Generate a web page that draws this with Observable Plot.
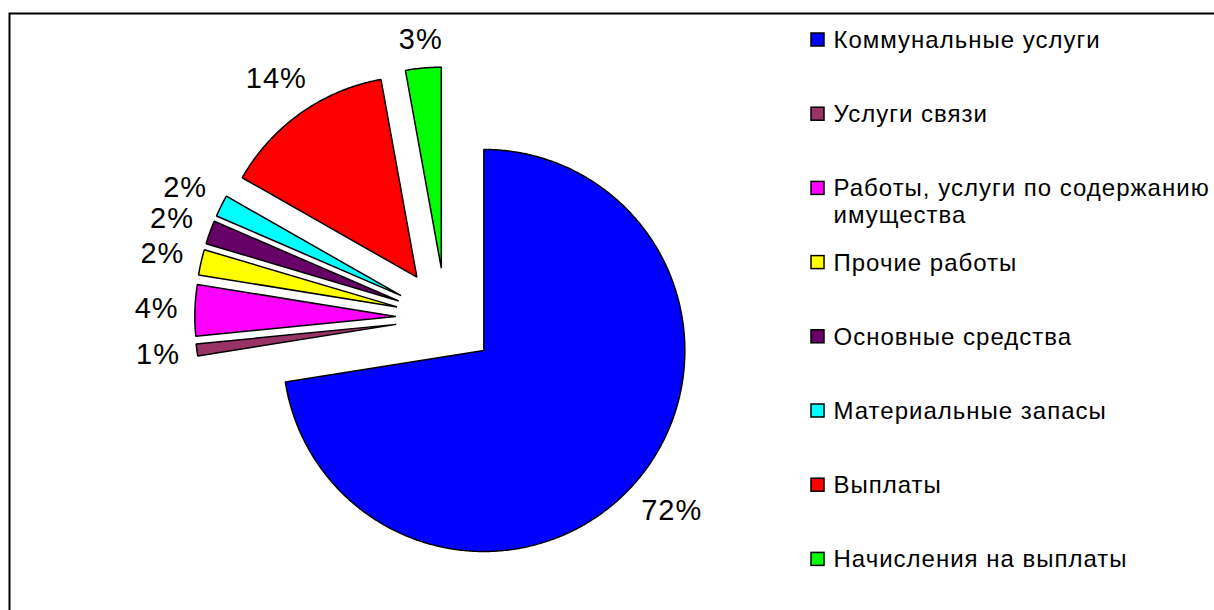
<!DOCTYPE html>
<html><head><meta charset="utf-8">
<script src="https://cdn.jsdelivr.net/npm/d3@7"></script>
<script src="https://cdn.jsdelivr.net/npm/@observablehq/plot@0.6"></script>
<style>html,body{margin:0;padding:0;background:#fff;} svg{display:block}</style>
</head><body><div id="chart"></div>
<script>
// ---- data ----
const categories = ["Коммунальные услуги","Услуги связи","Работы, услуги по содержанию имущества","Прочие работы","Основные средства","Материальные запасы","Выплаты","Начисления на выплаты"];
const values = [72.49, 0.95, 4.1, 2.05, 1.9, 1.75, 13.9, 2.86];
const colors = ["#0000FF","#993366","#FF00FF","#FFFF00","#660066","#00FFFF","#FF0000","#00FF00"];

// ---- layout ----
const W = 1214, H = 610;
const cx = 445.3, cy = 317.5, R = 201, explode = 50;
const FONT = "'Liberation Sans', Arial, sans-serif";
const labelSize = 29, legendSize = 24, letterSp = 1;
const labelGap = 16;
const legSwX = 811, legSwSize = 13, legTextX = 833, legTop = 39.5, legStep = 74.2, legMaxW = W - legTextX - 2;

const ctx = document.createElement("canvas").getContext("2d");
function tw(s, size) { ctx.font = `${size}px ${FONT}`; return ctx.measureText(s).width + letterSp * s.length; }

const total = d3.sum(values);
const arcs = d3.pie().sort(null).value(d => d)(values);

const slicePts = [];
const labels = [];
arcs.forEach((a, i) => {
  const mid = (a.startAngle + a.endAngle) / 2;
  const sx = Math.sin(mid), sy = -Math.cos(mid);
  const vx = cx + explode * sx, vy = cy + explode * sy;
  slicePts.push({cat: categories[i], color: colors[i], x: vx, y: vy});
  const n = Math.max(4, Math.ceil((a.endAngle - a.startAngle) / (Math.PI / 360)));
  for (let k = 0; k <= n; k++) {
    const t = a.startAngle + (a.endAngle - a.startAngle) * k / n;
    slicePts.push({cat: categories[i], color: colors[i], x: vx + R * Math.sin(t), y: vy - R * Math.cos(t)});
  }
  const text = Math.round(values[i] / total * 100) + "%";
  const hw = tw(text, labelSize) / 2, hh = labelSize * 0.36;
  const dist = R + labelGap + Math.abs(sx) * hw + Math.abs(sy) * hh;
  labels.push({text, x: vx + dist * sx, y: vy + dist * sy});
});

// legend wrapping
function wrap(s) {
  const words = s.split(" ");
  const lines = [];
  let cur = "";
  for (const w of words) {
    const t = cur ? cur + " " + w : w;
    if (cur && tw(t, legendSize) > legMaxW) { lines.push(cur); cur = w; } else cur = t;
  }
  lines.push(cur);
  return lines.join("\n");
}
const legend = categories.map((c, i) => ({
  cat: c, color: colors[i], text: wrap(c),
  cyy: legTop + legStep * i
}));

const chart = Plot.plot({
  width: W, height: H, margin: 0,
  x: {type: "identity", axis: null},
  y: {type: "identity", axis: null},
  color: {type: "identity"},
  style: {fontFamily: FONT, background: "#fff", overflow: "hidden", letterSpacing: letterSp + "px"},
  marks: [
    Plot.frame({stroke: "#000", strokeWidth: 2, insetLeft: 9, insetTop: 13, insetRight: -20, insetBottom: -20}),
    Plot.line(slicePts, {x: "x", y: "y", z: "cat", fill: "color", stroke: "#000", strokeWidth: 1.5, curve: "linear-closed", strokeLinejoin: "miter"}),
    Plot.text(labels, {x: "x", y: "y", text: "text", fontSize: labelSize, fill: "#000", textAnchor: "middle", lineAnchor: "middle"}),
    Plot.rect(legend, {x1: () => legSwX, x2: () => legSwX + legSwSize, y1: d => d.cyy - legSwSize / 2, y2: d => d.cyy + legSwSize / 2, fill: "color", stroke: "#000", strokeWidth: 1.5}),
    Plot.text(legend, {x: () => legTextX, y: d => d.cyy - 0.36 * legendSize - 2.5, text: "text", fontSize: legendSize, textAnchor: "start", lineAnchor: "top", lineHeight: 1.12, fill: "#000"})
  ]
});
document.getElementById("chart").appendChild(chart);
</script>
</body></html>
